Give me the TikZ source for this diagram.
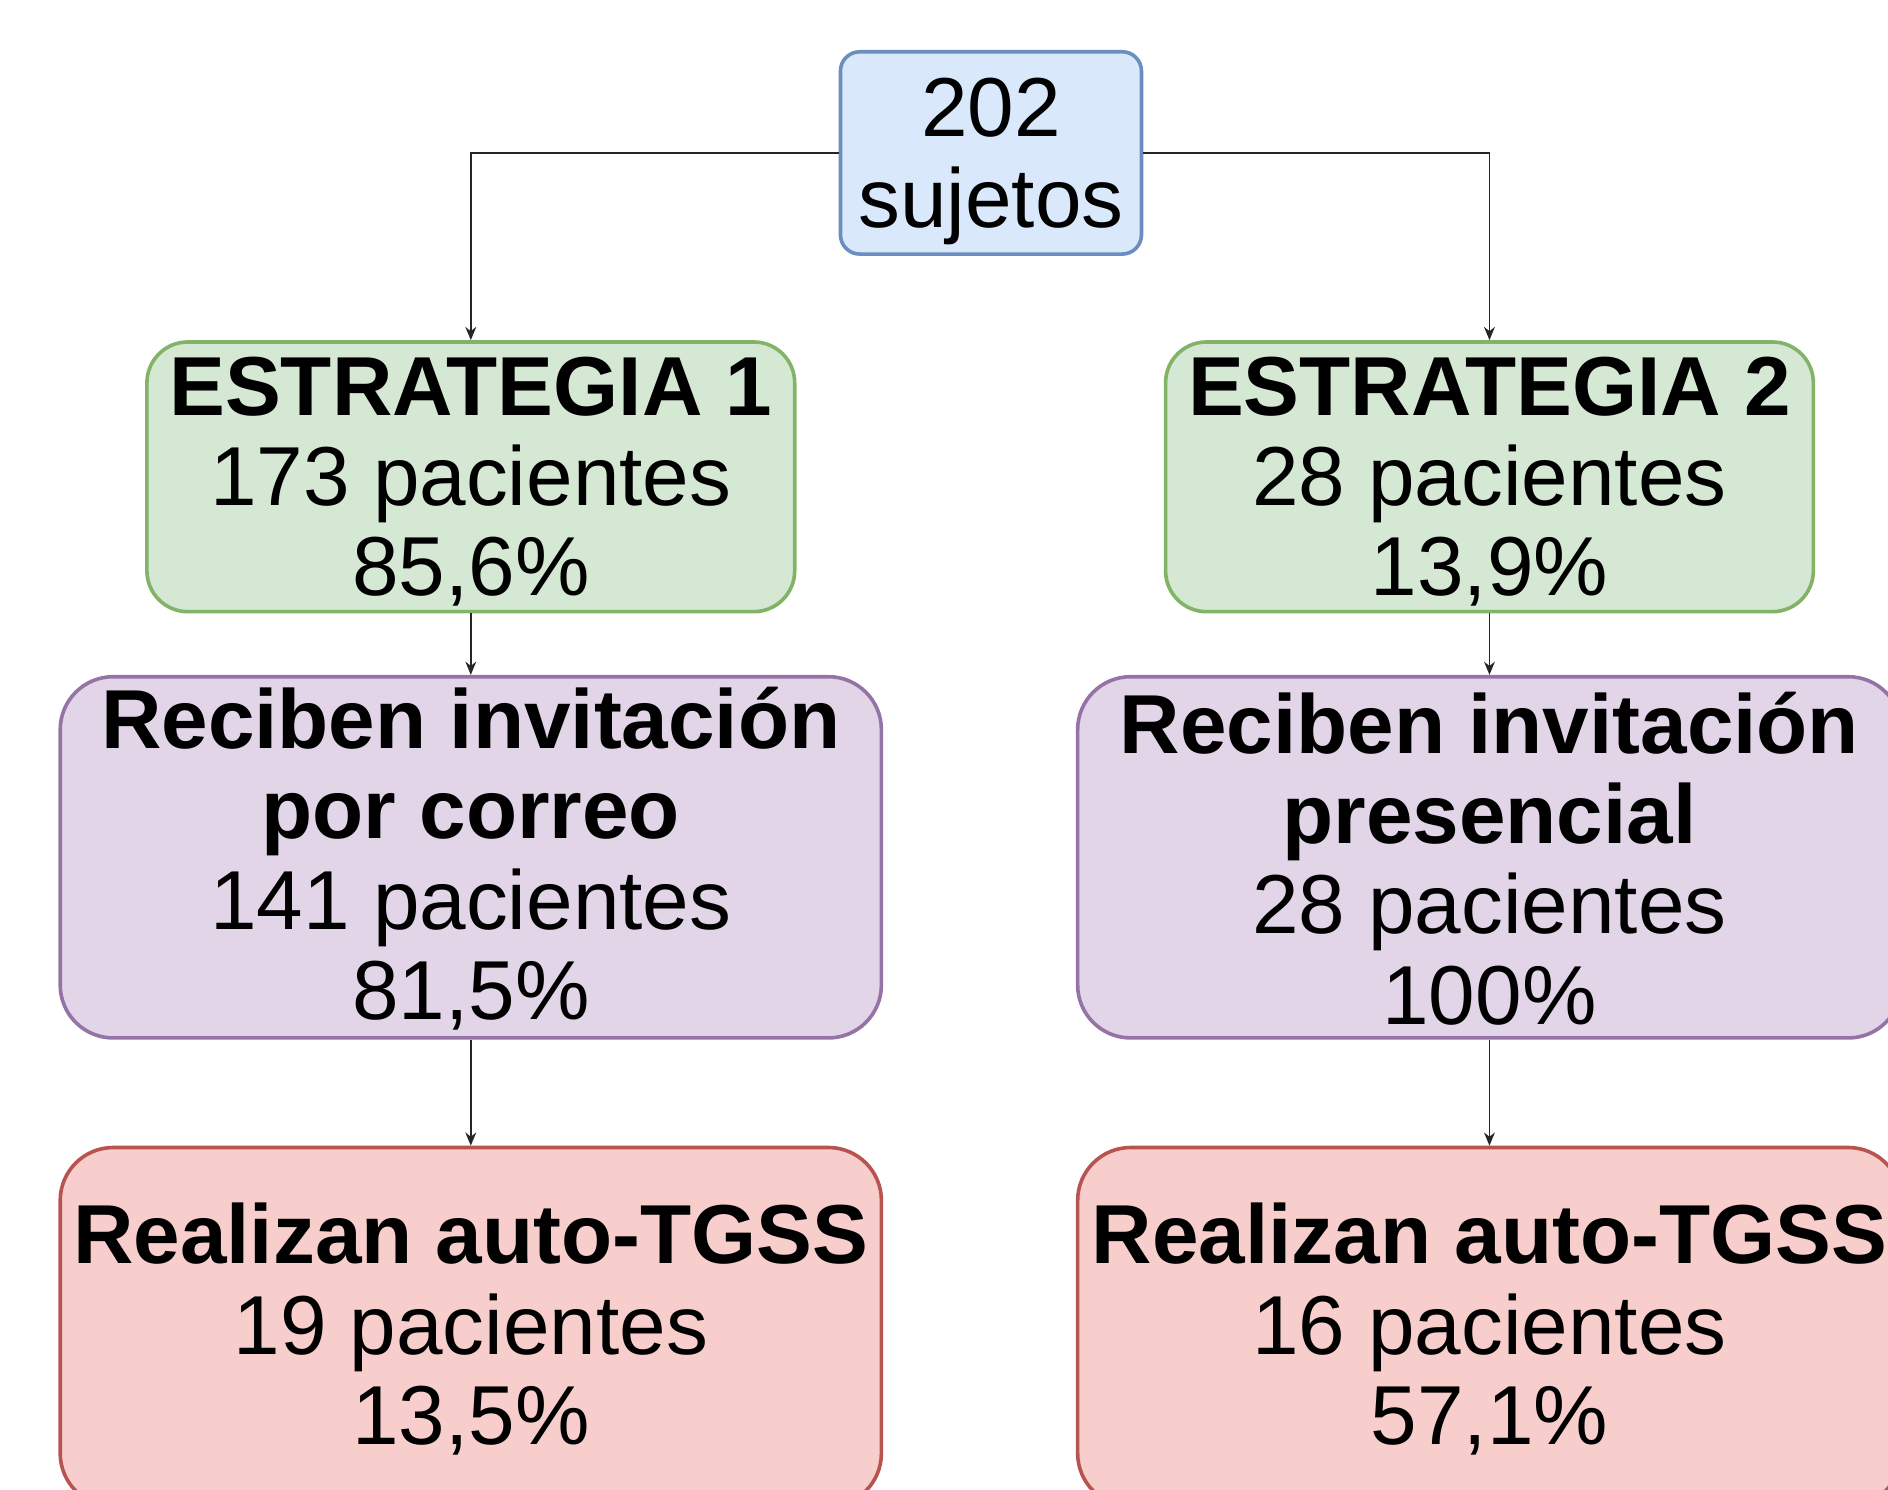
\documentclass[tikz,border=0pt]{standalone}
\usepackage{fontspec}
\setmainfont{Liberation Sans}
\usetikzlibrary{arrows.meta}
\definecolor{bfill}{HTML}{DAE8FC}\definecolor{bdraw}{HTML}{6C8EBF}
\definecolor{gfill}{HTML}{D5E8D4}\definecolor{gdraw}{HTML}{82B366}
\definecolor{pfill}{HTML}{E1D5E7}\definecolor{pdraw}{HTML}{9673A6}
\definecolor{rfill}{HTML}{F8CECC}\definecolor{rdraw}{HTML}{B85450}
\tikzset{
  x=1pt,y=1pt,
  box/.style={rectangle, rounded corners=#1, line width=3pt, inner sep=0pt},
  txt/.style={align=center, inner sep=0pt, font=\fontsize{69.5}{75}\selectfont},
  bluebox/.style={box=16pt, fill=bfill, draw=bdraw, minimum width=250pt, minimum height=168pt},
  greenbox/.style={box=34pt, fill=gfill, draw=gdraw, minimum width=538pt, minimum height=224pt},
  purplebox/.style={box=44pt, fill=pfill, draw=pdraw, minimum width=682pt, minimum height=300pt},
  redbox/.style={box=44pt, fill=rfill, draw=rdraw, minimum width=682pt, minimum height=298pt},
  arr/.style={line width=1.5pt, draw=black!85, -{Stealth[length=11pt,width=9pt]}}
}
\begin{document}
\begin{tikzpicture}
\useasboundingbox (0,0) rectangle (1568,-1237);
\node[bluebox] (top) at (823,-127) {};
\node[txt] (topt) at ([yshift=-7]top.center) {202\\sujetos};
\node[greenbox] (g1) at (391,-396) {};
\node[txt] (g1t) at ([yshift=-4]g1.center) {\textbf{ESTRATEGIA 1}\\173 pacientes\\85,6\%};
\node[greenbox] (g2) at (1237,-396) {};
\node[txt] (g2t) at ([yshift=-4]g2.center) {\textbf{ESTRATEGIA 2}\\28 pacientes\\13,9\%};
\node[purplebox] (p1) at (391,-712) {};
\node[txt] (p1t) at ([yshift=-1]p1.center) {\textbf{Reciben invitación}\\\textbf{por correo}\\141 pacientes\\81,5\%};
\node[purplebox, minimum width=684pt] (p2) at (1237,-712) {};
\node[txt] (p2t) at ([yshift=-1]p2.center) {\textbf{Reciben invitación}\\\textbf{presencial}\\28 pacientes\\100\%};
\node[redbox] (r1) at (391,-1102) {};
\node[txt] (r1t) at ([yshift=-2]r1.center) {\textbf{Realizan auto-TGSS}\\19 pacientes\\13,5\%};
\node[redbox, minimum width=684pt] (r2) at (1237,-1102) {};
\node[txt] (r2t) at ([yshift=-2]r2.center) {\textbf{Realizan auto-TGSS}\\16 pacientes\\57,1\%};
\draw[arr] (top.west) -| (g1.north);
\draw[arr] (top.east) -| (g2.north);
\draw[arr] (g1.south) -- (p1.north);
\draw[arr] (g2.south) -- (p2.north);
\draw[arr] (p1.south) -- (r1.north);
\draw[arr] (p2.south) -- (r2.north);
\end{tikzpicture}
\end{document}
